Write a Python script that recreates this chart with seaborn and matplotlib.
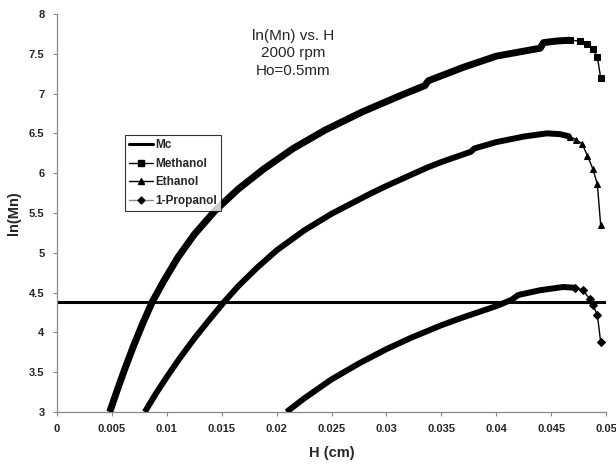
import numpy as np
import pandas as pd
import seaborn as sns
import matplotlib.pyplot as plt
from matplotlib.lines import Line2D
from matplotlib.ticker import FuncFormatter

# values
mc_value = 4.38

h_methanol = [0.0048, 0.0055, 0.0062, 0.0070, 0.0078, 0.0087, 0.0097, 0.0110, 0.0125, 0.0144,
              0.0165, 0.0188, 0.0215, 0.0244, 0.0278, 0.0317, 0.0335, 0.0338, 0.0370, 0.0400,
              0.0440, 0.0443, 0.0455, 0.0467, 0.0476, 0.0483, 0.0488, 0.0492, 0.0495]
ln_methanol = [3.00, 3.28, 3.55, 3.84, 4.11, 4.39, 4.64, 4.94, 5.23, 5.53,
               5.80, 6.05, 6.31, 6.54, 6.77, 7.00, 7.10, 7.16, 7.33, 7.47,
               7.57, 7.64, 7.66, 7.67, 7.66, 7.62, 7.56, 7.46, 7.20]

h_ethanol = [0.0080, 0.0090, 0.0100, 0.0112, 0.0126, 0.0140, 0.0152, 0.0165, 0.0182, 0.0200,
             0.0225, 0.0250, 0.0285, 0.0300, 0.0337, 0.0350, 0.0377, 0.0380, 0.0400, 0.0425,
             0.0446, 0.0458, 0.0467, 0.0473, 0.0478, 0.0483, 0.0488, 0.0492, 0.0495]
ln_ethanol = [3.00, 3.23, 3.44, 3.68, 3.94, 4.18, 4.38, 4.58, 4.81, 5.03,
              5.28, 5.49, 5.74, 5.84, 6.07, 6.14, 6.27, 6.31, 6.39, 6.46,
              6.50, 6.49, 6.46, 6.42, 6.37, 6.22, 6.05, 5.86, 5.35]

h_propanol = [0.0209, 0.0225, 0.0250, 0.0275, 0.0300, 0.0322, 0.0350, 0.0370, 0.0400, 0.0414,
              0.0420, 0.0440, 0.0461, 0.0472, 0.0479, 0.0485, 0.0488, 0.0492, 0.0495]
ln_propanol = [3.00, 3.17, 3.41, 3.61, 3.79, 3.93, 4.09, 4.19, 4.33, 4.41,
               4.47, 4.53, 4.57, 4.56, 4.53, 4.42, 4.34, 4.22, 3.88]

x_ticks = [0, 0.005, 0.01, 0.015, 0.02, 0.025, 0.03, 0.035, 0.04, 0.045, 0.05]
y_ticks = [3, 3.5, 4, 4.5, 5, 5.5, 6, 6.5, 7, 7.5, 8]

sns.set_style('white')
plt.rcParams['font.family'] = ['Liberation Sans', 'DejaVu Sans']

fig = plt.figure(figsize=(6.16, 4.65), dpi=100)
ax = fig.add_axes([0.0925, 0.114, 0.8915, 0.856])

ax.axhline(mc_value, color='black', lw=2.2, zorder=2)

series = [
    (h_methanol, ln_methanol, 's', 5, 6),
    (h_ethanol, ln_ethanol, '^', 4.3, 7),
    (h_propanol, ln_propanol, 'D', 4.3, 6),
]
for h, ln, mk, body_lw, n_tail in series:
    df = pd.DataFrame({'H': h, 'ln': ln})
    body = df.iloc[:len(df) - n_tail + 1]
    tail = df.iloc[len(df) - n_tail:]
    sns.lineplot(data=body, x='H', y='ln', ax=ax, color='black', lw=body_lw,
                 sort=False, zorder=3, solid_capstyle='butt', solid_joinstyle='round')
    sns.lineplot(data=tail, x='H', y='ln', ax=ax, color='black', lw=1,
                 marker=mk, markersize=5 if mk != 'D' else 4, markeredgecolor='black',
                 sort=False, zorder=3)

ax.set_xlim(0, 0.05)
ax.set_ylim(3, 8)
ax.set_xticks(x_ticks)
ax.set_yticks(y_ticks)
ax.xaxis.set_major_formatter(FuncFormatter(lambda v, p: '%g' % round(v, 4)))
ax.yaxis.set_major_formatter(FuncFormatter(lambda v, p: '%g' % v))
for lab in ax.get_xticklabels() + ax.get_yticklabels():
    lab.set_fontweight('bold')
    lab.set_fontsize(8)
ax.tick_params(axis='both', length=3, width=0.8, color='#888888', pad=6,
               bottom=True, left=True, direction='out')

for side in ['top', 'right']:
    ax.spines[side].set_visible(False)
for side in ['left', 'bottom']:
    ax.spines[side].set_color('#888888')
    ax.spines[side].set_linewidth(0.9)

ax.set_xlabel('H (cm)', fontsize=10.5, fontweight='bold', labelpad=8)
ax.set_ylabel('ln(Mn)', fontsize=10.5, fontweight='bold', labelpad=6)

ax.text(0.43, 0.962, 'ln(Mn) vs. H\n2000 rpm\nHo=0.5mm', transform=ax.transAxes,
        ha='center', va='top', fontsize=11, linespacing=1.3)

handles = [
    Line2D([], [], color='black', lw=2.2),
    Line2D([], [], color='black', lw=1, marker='s', markersize=4),
    Line2D([], [], color='black', lw=1, marker='^', markersize=4),
    Line2D([], [], color='#888888', lw=1, marker='D', markersize=3.5,
           markerfacecolor='black', markeredgecolor='black'),
]
labels = ['Mc', 'Methanol', 'Ethanol', '1-Propanol']
leg = ax.legend(handles, labels, loc='upper left', bbox_to_anchor=(0.124, 0.695),
                prop={'weight': 'bold', 'size': 8.5}, frameon=True, fancybox=False,
                edgecolor='black', handlelength=2.0, handletextpad=0.2,
                borderpad=0.35, labelspacing=0.55, borderaxespad=0)
leg.get_frame().set_linewidth(0.8)

fig.savefig('out.png', dpi=100)
